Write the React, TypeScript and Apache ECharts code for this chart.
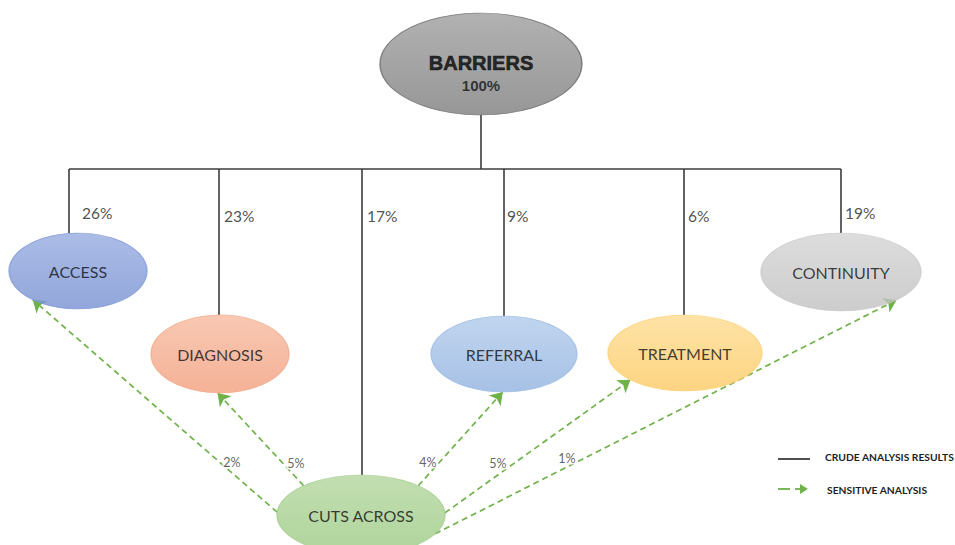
import React, { useEffect, useRef } from "react";
import * as echarts from "echarts";

// ---------- DATA ----------
const rootName = "BARRIERS";
const rootPct = 100;
const nodeNames = ["ACCESS", "DIAGNOSIS", "CUTS ACROSS", "REFERRAL", "TREATMENT", "CONTINUITY"];
const crudePct = [26, 23, 17, 9, 6, 19];
const sensitiveSource = "CUTS ACROSS";
const sensitiveTargets = ["ACCESS", "DIAGNOSIS", "REFERRAL", "TREATMENT", "CONTINUITY"];
const sensitivePct = [2, 5, 4, 5, 1];
const legendLabels = ["CRUDE ANALYSIS RESULTS", "SENSITIVE ANALYSIS"];

// ---------- LAYOUT (pixel space) ----------
const W = 955;
const H = 545;
const rootLayout = { cx: 481, cy: 64, rx: 101, ry: 51, colors: ["#9e9e9e", "#7d7d7d"], border: "#6a6a6a" };
const busY = 169;
type NL = { cx: number; cy: number; rx: number; ry: number; dropX: number; colors: string[]; border: string; pctDx: number; pctY: number };
const nodeLayout: Record<string, NL> = {
  "ACCESS": { cx: 78, cy: 271, rx: 69, ry: 38, dropX: 69, colors: ["#96abe0", "#7690d2"], border: "#8299d6", pctDx: 13, pctY: 213 },
  "DIAGNOSIS": { cx: 220, cy: 354, rx: 69, ry: 39, dropX: 219, colors: ["#f7baa0", "#f29e7c"], border: "#f3a98a", pctDx: 5, pctY: 216 },
  "CUTS ACROSS": { cx: 361, cy: 515, rx: 84, ry: 40, dropX: 362, colors: ["#b3d69e", "#9bca82"], border: "#a6d08f", pctDx: 5, pctY: 216 },
  "REFERRAL": { cx: 504, cy: 354, rx: 73, ry: 38, dropX: 504, colors: ["#b1caea", "#90b2e0"], border: "#9fbde6", pctDx: 3, pctY: 216 },
  "TREATMENT": { cx: 685, cy: 353, rx: 77, ry: 38, dropX: 684, colors: ["#fedc90", "#fdc962"], border: "#fdd27a", pctDx: 4, pctY: 216 },
  "CONTINUITY": { cx: 841, cy: 272, rx: 80, ry: 39, dropX: 841, colors: ["#d4d4d4", "#c0c0c0"], border: "#cbcbcb", pctDx: 4, pctY: 213 },
};
// arrow anchors: angle (deg, screen coords) on the source ellipse and on the target ellipse
const arrowAnchors: Record<string, { from: number; to: number; label: [number, number] }> = {
  "ACCESS": { from: 184, to: 131, label: [232, 462] },
  "DIAGNOSIS": { from: 227, to: 92, label: [296, 463] },
  "REFERRAL": { from: -47, to: 91, label: [428, 462] },
  "TREATMENT": { from: -3, to: 135, label: [498, 463] },
  "CONTINUITY": { from: 28, to: 46, label: [567, 458] },
};

const LINE_COLOR = "#3c3c3c";
const GREEN = "#6fb24a";
const TEXT = "#111111";
const FONT = "Lato, 'Open Sans', sans-serif";

function onEllipse(n: { cx: number; cy: number; rx: number; ry: number }, deg: number): [number, number] {
  const t = (deg * Math.PI) / 180;
  return [n.cx + n.rx * Math.cos(t), n.cy + n.ry * Math.sin(t)];
}
function topAt(n: NL, x: number): number {
  const u = (x - n.cx) / n.rx;
  return n.cy - n.ry * Math.sqrt(Math.max(0, 1 - u * u));
}
function grad(c: string[]) {
  return new echarts.graphic.LinearGradient(0, 0, 0, 1, [
    { offset: 0, color: c[0] },
    { offset: 1, color: c[1] },
  ]);
}

export default function App() {
  const ref = useRef<HTMLDivElement>(null);
  useEffect(() => {
    document.body.style.margin = "0";
    if (!ref.current) return;
    const chart = echarts.init(ref.current, undefined, { renderer: "svg" });

    const xs = nodeNames.map((n) => nodeLayout[n].dropX);
    const treeLines: any[] = [
      { coords: [[rootLayout.cx, rootLayout.cy + rootLayout.ry], [rootLayout.cx, busY]] },
      { coords: [[Math.min(...xs), busY], [Math.max(...xs), busY]] },
      ...nodeNames.map((n) => {
        const L = nodeLayout[n];
        return { coords: [[L.dropX, busY], [L.dropX, topAt(L, L.dropX)]] };
      }),
    ];

    const src = nodeLayout[sensitiveSource];
    const arrowLines = sensitiveTargets.map((t) => {
      const a = arrowAnchors[t];
      return { coords: [onEllipse(src, a.from), onEllipse(nodeLayout[t], a.to)] };
    });

    const ellipseData: any[] = [
      {
        value: [rootLayout.cx, rootLayout.cy],
        symbolSize: [rootLayout.rx * 2, rootLayout.ry * 2],
        itemStyle: { color: grad(rootLayout.colors), borderColor: rootLayout.border, borderWidth: 1 },
        label: {
          show: true,
          position: "inside",
          offset: [0, 9],
          formatter: `{a|${rootName}}\n{b|${rootPct}%}`,
          rich: {
            a: {
              fontFamily: "'Liberation Sans', Arial, sans-serif", fontWeight: "bold", fontSize: 20,
              color: "#050505", lineHeight: 24, textBorderColor: "#050505", textBorderWidth: 0.6,
            },
            b: { fontFamily: "'Liberation Sans', Arial, sans-serif", fontWeight: "bold", fontSize: 15, color: "#151515", lineHeight: 21 },
          },
        },
      },
      ...nodeNames.map((n) => {
        const L = nodeLayout[n];
        return {
          value: [L.cx, L.cy],
          symbolSize: [L.rx * 2, L.ry * 2],
          itemStyle: { color: grad(L.colors), borderColor: L.border, borderWidth: 1 },
          label: { show: true, position: "inside", formatter: n, fontFamily: FONT, fontSize: 16, color: TEXT },
        };
      }),
    ];

    const crudeLabelData = nodeNames.map((n, i) => {
      const L = nodeLayout[n];
      return { value: [L.dropX + L.pctDx, L.pctY], name: `${crudePct[i]}%` };
    });
    const sensLabelData = sensitiveTargets.map((t, i) => ({
      value: arrowAnchors[t].label,
      name: `${sensitivePct[i]}%`,
    }));

    chart.setOption({
      animation: false,
      grid: { left: 0, right: 0, top: 0, bottom: 0 },
      xAxis: { type: "value", min: 0, max: W, show: false },
      yAxis: { type: "value", min: 0, max: H, inverse: true, show: false },
      series: [
        {
          type: "lines",
          coordinateSystem: "cartesian2d",
          polyline: true,
          silent: true,
          z: 1,
          lineStyle: { color: LINE_COLOR, width: 1.6, opacity: 1 },
          data: treeLines,
        },
        {
          type: "lines",
          coordinateSystem: "cartesian2d",
          silent: true,
          z: 2,
          symbol: ["none", "arrow"],
          symbolSize: 12,
          lineStyle: { color: GREEN, width: 1.7, type: [6, 4], opacity: 1 },
          data: arrowLines,
        },
        {
          type: "scatter",
          symbol: "circle",
          silent: true,
          z: 3,
          data: ellipseData,
        },
        {
          type: "scatter",
          symbolSize: 0,
          silent: true,
          z: 4,
          label: {
            show: true,
            position: [0, 0],
            align: "left",
            verticalAlign: "middle",
            formatter: (p: any) => p.name,
            fontFamily: FONT,
            fontSize: 15.5,
            color: "#222222",
          },
          data: crudeLabelData,
        },
        {
          type: "scatter",
          symbolSize: 0,
          silent: true,
          z: 4,
          label: {
            show: true,
            position: [0, 0],
            align: "center",
            verticalAlign: "middle",
            formatter: (p: any) => p.name,
            fontFamily: FONT,
            fontSize: 12.5,
            color: "#3a3a3a",
            backgroundColor: "#ffffff",
            padding: [0, 1],
          },
          data: sensLabelData,
        },
      ],
      graphic: [
        { type: "line", shape: { x1: 778, y1: 459, x2: 810, y2: 459 }, style: { stroke: LINE_COLOR, lineWidth: 1.8 } },
        { type: "line", shape: { x1: 778, y1: 489, x2: 790, y2: 489 }, style: { stroke: GREEN, lineWidth: 1.8 } },
        { type: "line", shape: { x1: 795, y1: 489, x2: 801, y2: 489 }, style: { stroke: GREEN, lineWidth: 1.8 } },
        { type: "polygon", shape: { points: [[800, 484], [808, 489], [800, 494]] }, style: { fill: GREEN } },
        {
          type: "text", x: 825, y: 457,
          style: { text: legendLabels[0], fontFamily: FONT, fontWeight: "bold", fontSize: 10.3, fill: "#1e1e1e", verticalAlign: "middle" },
        },
        {
          type: "text", x: 827, y: 490,
          style: { text: legendLabels[1], fontFamily: FONT, fontWeight: "bold", fontSize: 10.3, fill: "#1e1e1e", verticalAlign: "middle" },
        },
      ],
    });
    return () => chart.dispose();
  }, []);
  return <div ref={ref} style={{ width: W, height: H }} />;
}
